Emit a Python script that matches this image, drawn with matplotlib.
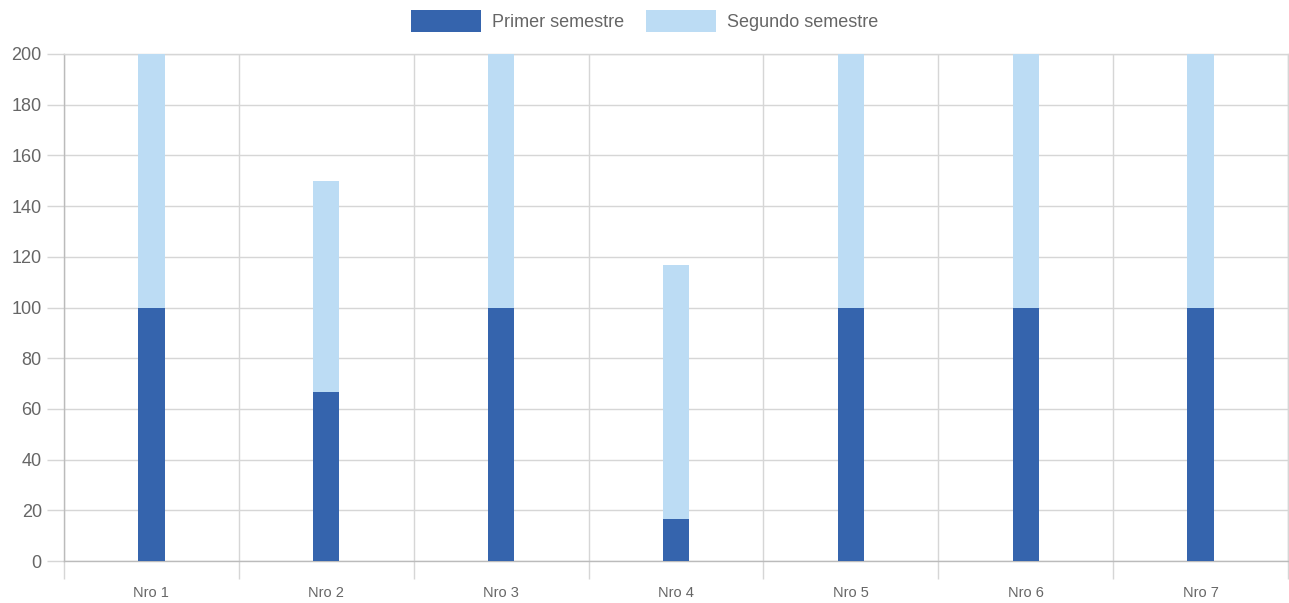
import numpy as np
import matplotlib.pyplot as plt

plt.rcParams['font.family'] = ['Liberation Sans', 'DejaVu Sans']

# Datos
categorias = ['Nro 1', 'Nro 2', 'Nro 3', 'Nro 4', 'Nro 5', 'Nro 6', 'Nro 7']
primer = [100, 66.7, 100, 16.7, 100, 100, 100]
segundo = [100, 83.3, 100, 100, 100, 100, 100]

c_primer = '#3564ad'
c_segundo = '#bcdcf4'
c_grid = '#d6d6d6'
c_text = '#666666'

fig = plt.figure(figsize=(12.89, 6.03), dpi=100)
ax = fig.add_axes([64 / 1289, 42 / 603, 1224 / 1289, 507 / 603])

x = np.arange(len(categorias))
ax.bar(x, primer, width=0.15, color=c_primer, label='Primer semestre', zorder=3)
ax.bar(x, segundo, width=0.15, bottom=primer, color=c_segundo,
       label='Segundo semestre', zorder=3)

ax.set_xlim(-0.5, len(categorias) - 0.5)
ax.set_ylim(0, 200)
ax.set_yticks(np.arange(0, 201, 20))
ax.set_xticks(x)
ax.set_xticklabels(categorias)
ax.set_xticks(np.arange(-0.5, len(categorias)), minor=True)

ax.grid(axis='y', color=c_grid, linewidth=1, zorder=0)
ax.grid(axis='x', which='minor', color=c_grid, linewidth=1, zorder=0)
ax.tick_params(axis='x', which='major', length=0, pad=18, labelsize=10.5, labelcolor=c_text)
ax.tick_params(axis='x', which='minor', length=13, color=c_grid, width=1)
ax.tick_params(axis='y', length=12, color=c_grid, width=1, pad=4, labelsize=13, labelcolor=c_text)
for s in ax.spines.values():
    s.set_color(c_grid)
    s.set_linewidth(1)
ax.spines['left'].set_color('#bbbbbb')
ax.spines['bottom'].set_color('#bbbbbb')

fig.legend(loc='upper center', bbox_to_anchor=(0.5, 1.01), ncol=2, frameon=False,
           handlelength=3.9, handleheight=1.5, columnspacing=1.2, handletextpad=0.6,
           prop={'size': 13}, labelcolor=c_text)

fig.savefig('out.png', dpi=100)
